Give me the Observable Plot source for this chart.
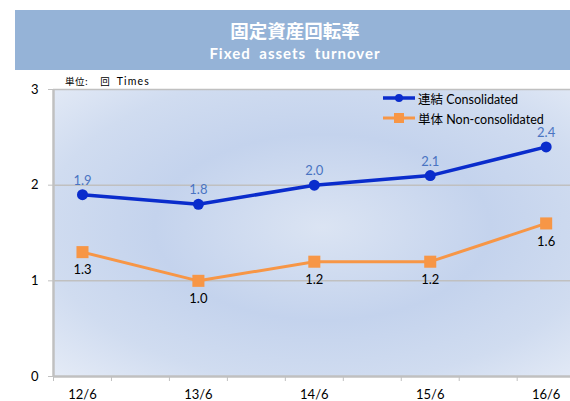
<!DOCTYPE html>
<html><head><meta charset="utf-8">
<script src="https://cdn.jsdelivr.net/npm/d3@7"></script>
<script src="https://cdn.jsdelivr.net/npm/@observablehq/plot@0.6"></script>
<style>
body{margin:0;background:#fff;font-family:Lato,"Noto Sans CJK JP",sans-serif;}
#wrap{position:relative;width:570px;height:401px;overflow:hidden;background:#fff}
#title{position:absolute;left:15px;top:10px;width:555px;height:60px;background:#95b3d7;color:#fff;text-align:center;font-weight:bold;}
#t1{position:absolute;left:0;width:560px;top:9px;font-family:"Noto Sans CJK JP",sans-serif;font-size:18.5px;line-height:22px;}
#t2{position:absolute;left:0;width:560px;top:33px;font-family:Lato,sans-serif;font-size:15px;line-height:20px;word-spacing:4px;letter-spacing:1px}
#chart{position:absolute;left:0;top:70px;}
#unit{position:absolute;left:65px;top:74px;font-size:9.5px;line-height:14px;color:#000;font-family:"Noto Sans CJK JP",sans-serif;white-space:nowrap}
#legend{position:absolute;left:383px;top:88px;font-size:12.5px;color:#000;font-family:Lato,"Noto Sans CJK JP",sans-serif;}
#legend div{height:20px;display:flex;align-items:center;white-space:nowrap}
#legend svg{margin-right:3px}
</style></head>
<body>
<div id="wrap">
  <div id="title"><div id="t1">固定資産回転率</div><div id="t2">Fixed assets turnover</div></div>
  <div id="chart"></div>
  <div id="unit"><span style="letter-spacing:0.5px">単位:</span><span style="margin-left:12px">回</span><span style="margin-left:7px;font-family:Lato,sans-serif;font-size:10.5px;letter-spacing:1.2px">Times</span></div>
  <div id="legend"></div>
</div>
<script>
const categories = ["12/6","13/6","14/6","15/6","16/6"];
const consolidated = [1.9, 1.8, 2.0, 2.1, 2.4];
const nonConsolidated = [1.3, 1.0, 1.2, 1.2, 1.6];
const yTicks = [0, 1, 2, 3];
const seriesNames = ["連結 Consolidated", "単体 Non-consolidated"];

const blue = "#0a2ccc", orange = "#f79646", labelBlue = "#4a74c2", gridC = "#c0c0c0";
const idx = categories.map((c, i) => i);
const blueData = idx.map(i => ({i, v: consolidated[i]}));
const orangeData = idx.map(i => ({i, v: nonConsolidated[i]}));
const halfTicks = d3.range(-0.25, 4.3, 0.5);

const chart = Plot.plot({
  width: 570, height: 331,
  marginLeft: 53, marginRight: 0, marginTop: 19, marginBottom: 25,
  style: {fontFamily: "Lato, sans-serif", fontSize: "13px", color: "#000", background: "transparent", overflow: "visible"},
  x: {type: "linear", domain: [-0.25, 4.21], axis: null, label: null},
  y: {domain: [0, 3], axis: null, label: null},
  marks: [
    Plot.frame({fill: "url(#bgGrad)", stroke: "none"}),
    Plot.gridY([1, 2, 3], {stroke: gridC, strokeOpacity: 1, strokeWidth: 1.5}),
    Plot.ruleX([-0.25], {stroke: gridC, strokeWidth: 2.5}),
    Plot.ruleY([0], {stroke: gridC, strokeWidth: 2.5}),
    Plot.axisY(yTicks, {tickSize: 5, tickPadding: 10, stroke: gridC, fill: "#000", fontSize: 13, label: null, tickFormat: d => String(d)}),
    Plot.axisX(halfTicks, {tickSize: 5, stroke: gridC, label: null, tickFormat: () => ""}),
    Plot.axisX(idx, {tickSize: 0, tickPadding: 13, fill: "#000", fontSize: 13, label: null, tickFormat: i => categories[i]}),
    Plot.line(orangeData, {x: "i", y: "v", stroke: orange, strokeWidth: 3}),
    Plot.dot(orangeData, {x: "i", y: "v", symbol: "square", r: 6.8, fill: orange, stroke: "none"}),
    Plot.text(orangeData, {x: "i", y: "v", text: d => d.v.toFixed(1), dy: 18, fill: "#000", fontSize: 13}),
    Plot.line(blueData, {x: "i", y: "v", stroke: blue, strokeWidth: 3.5}),
    Plot.dot(blueData, {x: "i", y: "v", r: 5.5, fill: blue, stroke: "none"}),
    Plot.text(blueData, {x: "i", y: "v", text: d => d.v.toFixed(1), dy: -14, fill: labelBlue, fontSize: 13})
  ]
});

const ns = "http://www.w3.org/2000/svg";
const defs = document.createElementNS(ns, "defs");
defs.innerHTML = `<radialGradient id="bgGrad" cx="0.52" cy="0.48" r="0.72" fx="0.52" fy="0.48">
  <stop offset="0" stop-color="#dbe4f3"/>
  <stop offset="0.45" stop-color="#c4d3ed"/>
  <stop offset="0.75" stop-color="#d0dcf0"/>
  <stop offset="1" stop-color="#e3eaf6"/>
</radialGradient>`;
chart.insertBefore(defs, chart.firstChild);
document.getElementById("chart").appendChild(chart);

// legend
const lg = document.getElementById("legend");
const colors = [blue, orange];
seriesNames.forEach((name, k) => {
  const row = document.createElement("div");
  const marker = k === 0
    ? `<circle cx="16" cy="6" r="4" fill="${blue}"/>`
    : `<rect x="11" y="1" width="10" height="10" fill="${orange}"/>`;
  row.innerHTML = `<svg width="32" height="12"><line x1="0" x2="32" y1="6" y2="6" stroke="${colors[k]}" stroke-width="${k===0?3.5:3}"/>${marker}</svg><span>${name}</span>`;
  lg.appendChild(row);
});
</script>
</body></html>
